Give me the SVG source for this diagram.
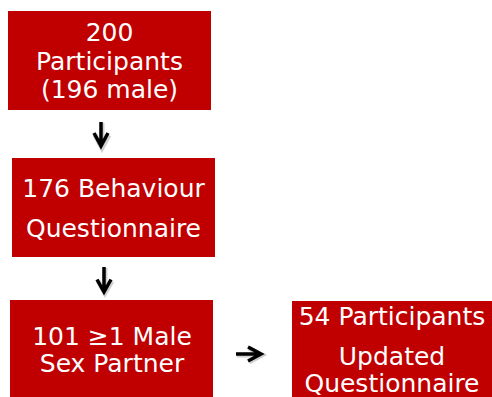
<svg xmlns="http://www.w3.org/2000/svg" width="492" height="397" viewBox="0 0 492 397">
<style>
.box{fill:#C00000;}
.lbl{font-family:"DejaVu Sans","Verdana",sans-serif;font-size:25px;fill:#FFFFFF;text-anchor:middle;}
.arr{fill:none;stroke:#000000;stroke-width:3.5;stroke-linecap:butt;stroke-linejoin:miter;}
.sh{fill:none;stroke:#000000;stroke-opacity:0.18;stroke-width:5;}
</style>
<rect width="492" height="397" fill="#FFFFFF"/>
<g id="connectors">
  <g id="arrow1">
    <path class="sh" d="M102,123 V147 M95,135 L102,148 L109,135"/>
    <path class="arr" d="M101,122 V145 M94,133 L101,146 L108,133"/>
  </g>
  <g id="arrow2">
    <path class="sh" d="M105,268 V292 M98,281 L105,293 L112,281"/>
    <path class="arr" d="M104,267 V290 M97,279.5 L104,292 L111,279.5"/>
  </g>
  <g id="arrow3">
    <path class="sh" d="M237,355 H261 M249,348 L262,355 L249,362"/>
    <path class="arr" d="M236,354 H259 M248,347 L261,354 L248,361"/>
  </g>
</g>
<g id="node1">
  <rect class="box" x="8" y="11" width="203" height="99"/>
  <text class="lbl" x="109.5" y="41">200</text>
  <text class="lbl" x="109.5" y="70">Participants</text>
  <text class="lbl" x="109.5" y="97.5">(196 male)</text>
</g>
<g id="node2">
  <rect class="box" x="12" y="158" width="203" height="99"/>
  <text class="lbl" x="113.5" y="197">176 Behaviour</text>
  <text class="lbl" x="113.5" y="237">Questionnaire</text>
</g>
<g id="node3">
  <rect class="box" x="10" y="300" width="203" height="97"/>
  <text class="lbl" x="112" y="345">101 ≥1 Male</text>
  <text class="lbl" x="112" y="372">Sex Partner</text>
</g>
<g id="node4">
  <rect class="box" x="292" y="301" width="200" height="96"/>
  <text class="lbl" x="392" y="325">54 Participants</text>
  <text class="lbl" x="392" y="365">Updated</text>
  <text class="lbl" x="392" y="392">Questionnaire</text>
</g>
</svg>
